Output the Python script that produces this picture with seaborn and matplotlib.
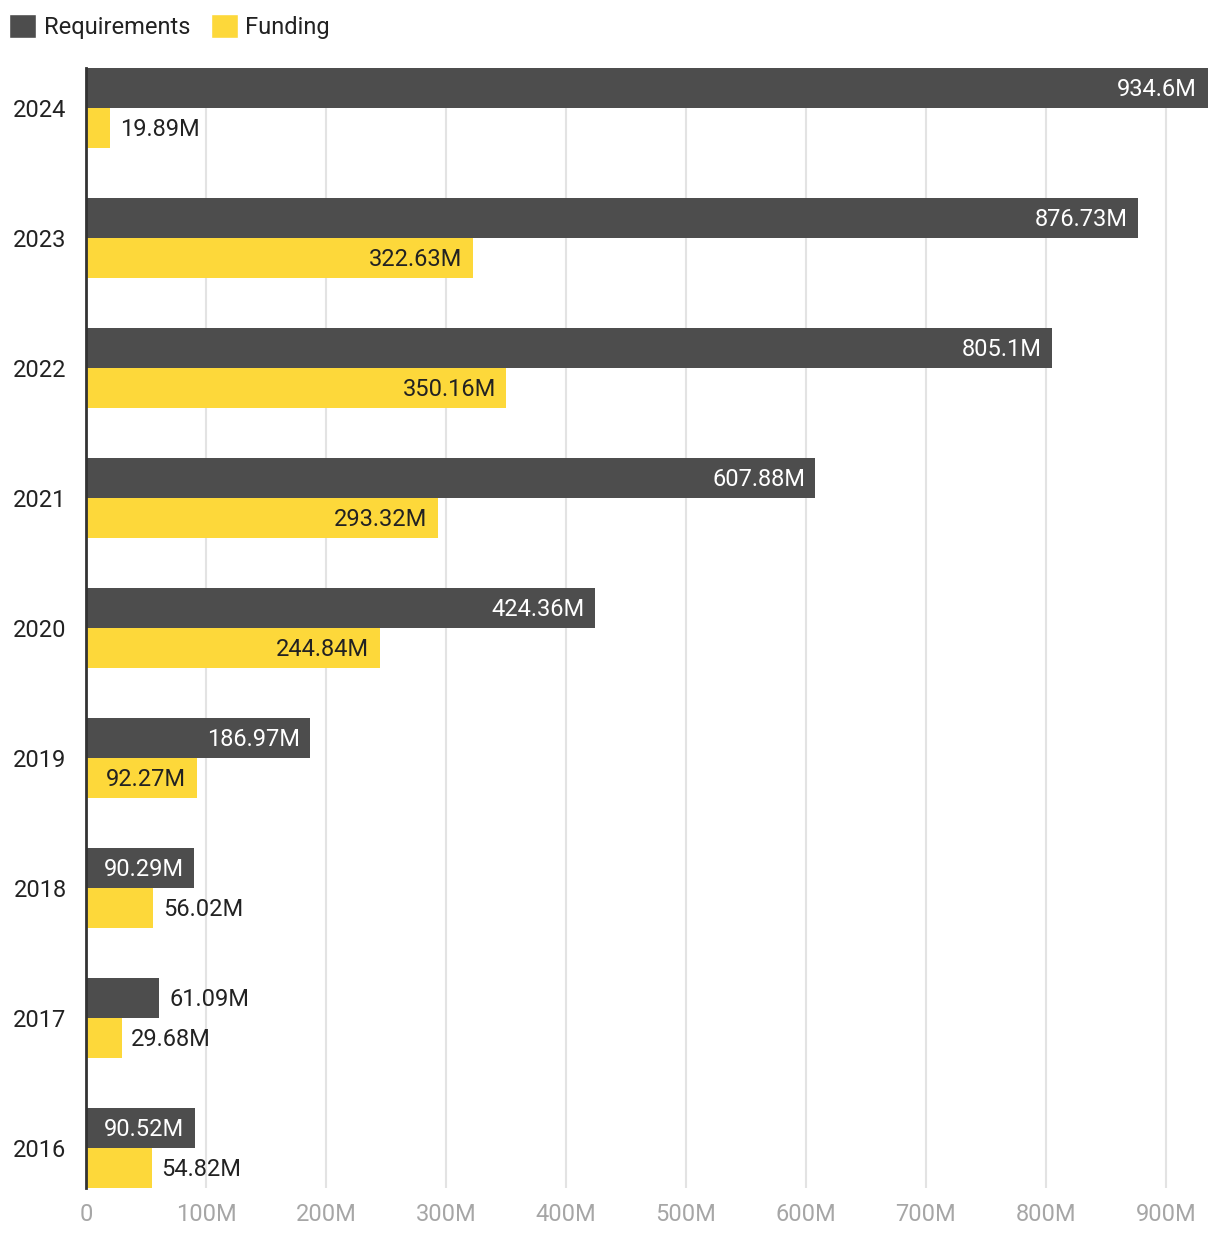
import pandas as pd
import seaborn as sns
import matplotlib.pyplot as plt
from matplotlib.patches import Patch

# data (in millions)
years = ['2024', '2023', '2022', '2021', '2020', '2019', '2018', '2017', '2016']
requirements = [934.6, 876.73, 805.1, 607.88, 424.36, 186.97, 90.29, 61.09, 90.52]
funding = [19.89, 322.63, 350.16, 293.32, 244.84, 92.27, 56.02, 29.68, 54.82]
series = ['Requirements', 'Funding']
colors = ['#4d4d4d', '#fdd83a']
x_ticks = [0, 100, 200, 300, 400, 500, 600, 700, 800, 900]

df = pd.DataFrame({
    'year': years * 2,
    'value': requirements + funding,
    'series': [series[0]] * len(years) + [series[1]] * len(years),
})

sns.set_style('white')
plt.rcParams['font.family'] = ['Roboto', 'DejaVu Sans']
FS = 17

fig = plt.figure(figsize=(12.2, 12.36), dpi=100)
ax = fig.add_axes([86 / 1220, 1 - 1188 / 1236, 1122 / 1220, 1120 / 1236])

sns.barplot(data=df, x='value', y='year', hue='series', orient='h',
            palette=colors, saturation=1, width=0.6154, legend=False, ax=ax,
            linewidth=0, zorder=2)

# value labels
for cont, col in zip(ax.containers, colors):
    for bar in cont:
        w = bar.get_width()
        yc = bar.get_y() + bar.get_height() / 2
        txt = f'{w:g}M'
        if w > 80:
            tc = 'white' if col == colors[0] else '#222222'
            ax.annotate(txt, (w, yc), xytext=(-7.5, -1), textcoords='offset points',
                        ha='right', va='center', color=tc, fontsize=FS, zorder=3)
        else:
            ax.annotate(txt, (w, yc), xytext=(7, -1), textcoords='offset points',
                        ha='left', va='center', color='#222222', fontsize=FS, zorder=3)

ax.set_xlim(0, 935)
ax.set_ylim(8.3077, -0.3077)
ax.set_xticks(x_ticks)
ax.set_xticklabels(['0' if t == 0 else f'{t}M' for t in x_ticks])
ax.tick_params(axis='x', length=0, pad=11, labelsize=FS, labelcolor='#a6a6a6')
ax.tick_params(axis='y', length=0, pad=14, labelsize=FS, labelcolor='#222222')
ax.set_xlabel('')
ax.set_ylabel('')
ax.grid(axis='x', color='#e3e3e3', linewidth=1.5, zorder=0)
ax.set_axisbelow(True)
for s in ['top', 'right', 'bottom']:
    ax.spines[s].set_visible(False)
ax.spines['left'].set_color('#333333')
ax.spines['left'].set_linewidth(2)
ax.spines['left'].set_zorder(4)

handles = [Patch(facecolor=c, label=l) for c, l in zip(colors, series)]
fig.legend(handles=handles, loc='upper left', bbox_to_anchor=(-0.004, 1.0), ncol=2,
           frameon=False, fontsize=FS, handlelength=1.15, handleheight=1.15,
           handletextpad=0.3, columnspacing=0.9, borderaxespad=0.2,
           labelcolor='#222222')

fig.savefig('out.png', dpi=100)
